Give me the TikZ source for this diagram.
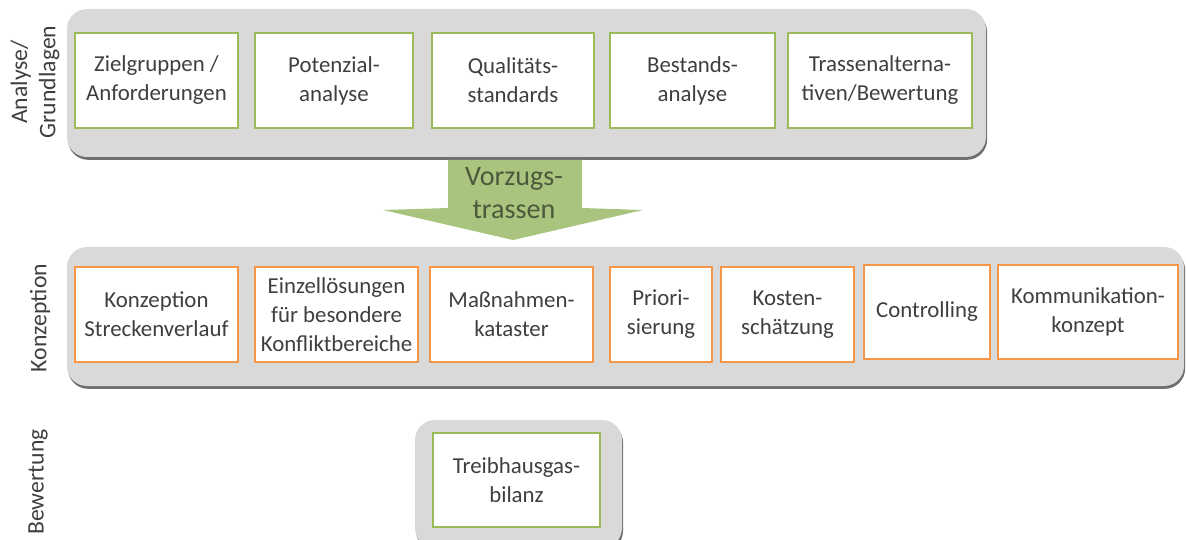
\documentclass[tikz,border=0pt]{standalone}
\usepackage{fontspec}
\setmainfont{Carlito}
\usepackage{xcolor}
\usetikzlibrary{positioning,fit,shadows}

\definecolor{grpgray}{HTML}{D9D9D9}
\definecolor{shadowgray}{HTML}{6F6F6F}
\definecolor{boxgreen}{HTML}{9BBB59}
\definecolor{boxorange}{HTML}{F79646}
\definecolor{arrowgreen}{HTML}{A9C47F}
\definecolor{txt}{HTML}{3F3F3F}
\definecolor{arrowtxt}{HTML}{4A5A3A}

\tikzset{
  grp/.style={fill=grpgray, rounded corners=0.4cm, inner sep=0pt,
    drop shadow={shadow xshift=0.6pt, shadow yshift=-1.6pt, fill=shadowgray, opacity=1}},
  gbox/.style={draw=boxgreen, line width=0.9pt, fill=white, inner sep=0pt,
    minimum height=1.9cm, align=center, text=txt, font=\fontsize{13}{16.5}\selectfont},
  obox/.style={gbox, draw=boxorange},
  side/.style={rotate=90, align=center, text=txt, font=\fontsize{13.5}{16}\selectfont}
}

\begin{document}
\begin{tikzpicture}[x=0.02cm, y=-0.02cm]
\useasboundingbox (0,0) rectangle (1186,540);

% Analyse / Grundlagen
\node[grp, fit={(67,9) (986,157)}] (ana) {};
\node[gbox, minimum width=3.26cm] (zg) at (156.5,80.5) {Zielgruppen /\\Anforderungen};
\node[gbox, minimum width=3.16cm] (pot) at (334,80.5) {Potenzial-\\analyse};
\node[gbox, minimum width=3.24cm] (qual) at (513,80.5) {Qualitäts-\\standards};
\node[gbox, minimum width=3.3cm] (best) at (692.5,80.5) {Bestands-\\analyse};
\node[gbox, minimum width=3.68cm] (tras) at (880,80.5) {Trassenalterna-\\tiven/Bewertung};
\node[side] (lana) at (35,82) {Analyse/\\Grundlagen};

% Pfeil
\fill[arrowgreen] (448,160) -- (582,160) -- (582,208) -- (643,210) -- (513,240)
  -- (383,210) -- (448,208) -- cycle;
\node[text=arrowtxt, align=center, font=\fontsize{16}{19}\selectfont] (vorz) at (514,193) {Vorzugs-\\trassen};

% Konzeption
\node[grp, fit={(67,247) (1184,386)}] (konz) {};
\node[obox, minimum width=3.26cm] (k1) at (156.5,314.5) {Konzeption\\Streckenverlauf};
\node[obox, minimum width=3.26cm] (k2) at (336.5,314.5) {Einzellösungen\\für besondere\\Konfliktbereiche};
\node[obox, minimum width=3.26cm] (k3) at (511.5,314.5) {Maßnahmen-\\kataster};
\node[obox, minimum width=2.04cm] (k4) at (661,314.5) {Priori-\\sierung};
\node[obox, minimum width=2.66cm] (k5) at (787.5,314.5) {Kosten-\\schätzung};
\node[obox, minimum width=2.52cm, minimum height=1.88cm] (k6) at (927,312) {Controlling};
\node[obox, minimum width=3.6cm, minimum height=1.88cm] (k7) at (1088,312) {Kommunikation-\\konzept};
\node[side] (lkonz) at (40,318) {Konzeption};

% Bewertung
\node[grp, fit={(415,420) (622,548)}] (bew) {};
\node[gbox, minimum width=3.34cm, minimum height=1.88cm] (thg) at (516.5,480) {Treibhausgas-\\bilanz};
\node[side] (lbew) at (38,482) {Bewertung};
\end{tikzpicture}
\end{document}
